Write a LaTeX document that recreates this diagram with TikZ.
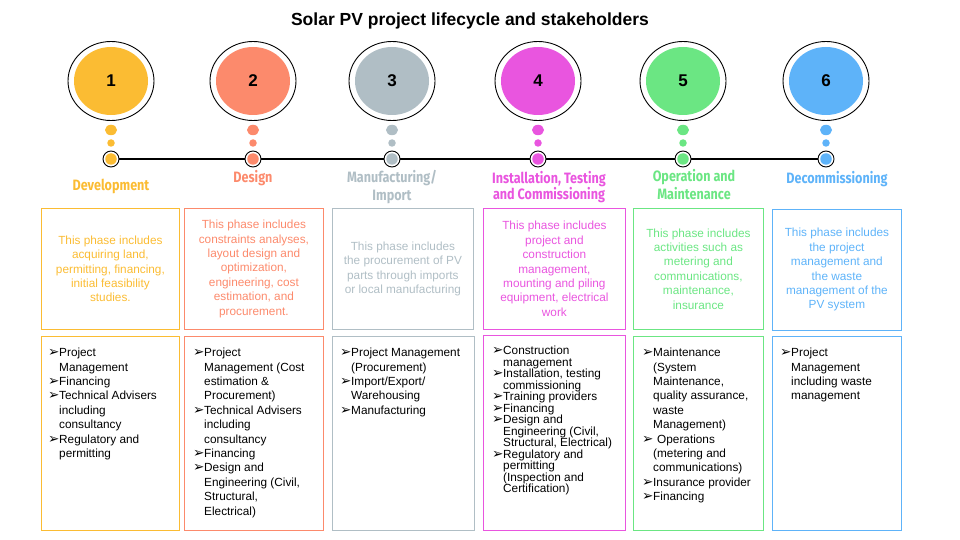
\documentclass[tikz,border=0pt]{standalone}
\usepackage{fontspec}
\setmainfont{Liberation Sans}
\newfontfamily\phasefont[FakeStretch=0.84]{Fira Sans}
\newfontfamily\symfont{DejaVu Sans}
\usetikzlibrary{
  shapes.geometric,
  positioning,
  backgrounds
}
\definecolor{pvDev}{HTML}{FBBC33}
\definecolor{pvDes}{HTML}{FC8A6C}
\definecolor{pvMan}{HTML}{B0BEC5}
\definecolor{pvIns}{HTML}{E955DF}
\definecolor{pvOM}{HTML}{6BE683}
\definecolor{pvDec}{HTML}{5EB3F9}
\newcommand{\pvitem}{\makebox[11pt][l]{\symfont\fontsize{13.5}{10}\selectfont ➢}}
\newcommand{\pvcont}{\hspace*{11pt}}
\tikzset{
  pvtitle/.style={font=\bfseries\fontsize{17.5}{20}\selectfont, inner sep=0pt},
  bubbleout/.style={draw, ellipse, line width=0.9pt, fill=white,
    minimum width=86pt, minimum height=79pt, inner sep=0pt},
  bubblein/.style={ellipse, minimum width=74pt, minimum height=68pt, inner sep=0pt,
    font=\bfseries\fontsize{17}{17}\selectfont},
  bigdot/.style={ellipse, minimum width=12pt, minimum height=10.5pt, inner sep=0pt},
  smalldot/.style={circle, minimum size=7.5pt, inner sep=0pt},
  stopring/.style={draw, circle, line width=0.9pt, fill=white, minimum size=16pt, inner sep=0pt},
  stopdot/.style={circle, minimum size=11.5pt, inner sep=0pt},
  timeline/.style={line width=1.6pt, black},
  phaselabel/.style={font=\phasefont\bfseries\fontsize{15}{18}\selectfont, align=center, inner sep=0pt},
  descbox/.style={draw, line width=0.8pt, anchor=north west, align=center, inner sep=0pt,
    font=\fontsize{11.8}{14.4}\selectfont},
  listbox/.style={draw, line width=0.8pt, anchor=north west, inner sep=0pt},
  listtext/.style={inner sep=0pt, align=left, font=\fontsize{11.8}{14.4}\selectfont}
}
\begin{document}
\begin{tikzpicture}[x=1pt, y=-1pt]
  \useasboundingbox (0,0) rectangle (960,540);
  \node[pvtitle] (title) at (470,21) {Solar PV project lifecycle and stakeholders};

  % bubbles, dots and timeline stops
  \foreach \x/\n/\c in {111/1/pvDev, 253/2/pvDes, 392/3/pvMan, 538/4/pvIns, 683/5/pvOM, 826/6/pvDec}{
    \node[bubbleout] (b\n) at (\x,81) {};
    \node[bubblein, fill=\c] (bi\n) at (b\n) {\n};
    \node[bigdot, fill=\c] (d\n) at (\x,130) {};
    \node[smalldot, fill=\c] (s\n) at (\x,143) {};
    \node[stopring] (t\n) at (\x,159) {};
    \node[stopdot, fill=\c] (ti\n) at (t\n) {};
  }
  \begin{scope}[on background layer]
    \draw[timeline] (t1) -- (t6);
  \end{scope}

  % phase names
  \node[phaselabel, text=pvDev] (n1) at (111,186) {Development};
  \node[phaselabel, text=pvDes] (n2) at (253,178) {Design};
  \node[phaselabel, text=pvMan] (n3) at (392,187) {Manufacturing/\\Import};
  \node[phaselabel, text=pvIns, font=\phasefont\bfseries\fontsize{15}{15.5}\selectfont] (n4) at (549,187) {Installation, Testing\\and Commissioning};
  \node[phaselabel, text=pvOM] (n5) at (694,185) {Operation and\\Maintenance};
  \node[phaselabel, text=pvDec] (n6) at (837,179) {Decommissioning};

  % phase descriptions
  \node[descbox, draw=pvDev, text=pvDev, minimum width=138pt, minimum height=121pt] (p1) at (41,208)
    {This phase includes\\acquiring land,\\permitting, financing,\\initial feasibility\\studies.};
  \node[descbox, draw=pvDes, text=pvDes, minimum width=139pt, minimum height=121pt] (p2) at (184,208)
    {This phase includes\\constraints analyses,\\layout design and\\optimization,\\engineering, cost\\estimation, and\\procurement.};
  \node[descbox, draw=pvMan, text=pvMan, minimum width=141pt, minimum height=121pt] (p3) at (332,208)
    {This phase includes\\the procurement of PV\\parts through imports\\or local manufacturing};
  \node[descbox, draw=pvIns, text=pvIns, minimum width=142pt, minimum height=121pt] (p4) at (483,208)
    {This phase includes\\project and\\construction\\management,\\mounting and piling\\equipment, electrical\\work};
  \node[descbox, draw=pvOM, text=pvOM, minimum width=130pt, minimum height=121pt] (p5) at (633,208)
    {This phase includes\\activities such as\\metering and\\communications,\\maintenance,\\insurance};
  \node[descbox, draw=pvDec, text=pvDec, minimum width=129pt, minimum height=121pt] (p6) at (772,209)
    {This phase includes\\the project\\management and\\the waste\\management of the\\PV system};

  % stakeholders
  \node[listbox, draw=pvDev, minimum width=138pt, minimum height=194pt] (l1) at (41,336) {};
  \node[listbox, draw=pvDes, minimum width=139pt, minimum height=194pt] (l2) at (184,336) {};
  \node[listbox, draw=pvMan, minimum width=142pt, minimum height=194pt] (l3) at (332,336) {};
  \node[listbox, draw=pvIns, minimum width=142pt, minimum height=195pt] (l4) at (483,335) {};
  \node[listbox, draw=pvOM, minimum width=130pt, minimum height=194pt] (l5) at (633,336) {};
  \node[listbox, draw=pvDec, minimum width=129pt, minimum height=194pt] (l6) at (772,336) {};

  \node[listtext, below right=12pt and 7pt of l1.north west] (k1)
    {\pvitem Project\\\pvcont Management\\\pvitem Financing\\\pvitem Technical Advisers\\\pvcont including\\\pvcont consultancy\\\pvitem Regulatory and\\\pvcont permitting};
  \node[listtext, below right=12pt and 9pt of l2.north west] (k2)
    {\pvitem Project\\\pvcont Management (Cost\\\pvcont estimation \&\\\pvcont Procurement)\\\pvitem Technical Advisers\\\pvcont including\\\pvcont consultancy\\\pvitem Financing\\\pvitem Design and\\\pvcont Engineering (Civil,\\\pvcont Structural,\\\pvcont Electrical)};
  \node[listtext, below right=12pt and 8pt of l3.north west] (k3)
    {\pvitem Project Management\\\pvcont (Procurement)\\\pvitem Import/Export/\\\pvcont Warehousing\\\pvitem Manufacturing};
  \node[listtext, below right=11pt and 9pt of l4.north west, font=\fontsize{11.8}{11.5}\selectfont] (k4)
    {\pvitem Construction\\\pvcont management\\\pvitem Installation, testing\\\pvcont commissioning\\\pvitem Training providers\\\pvitem Financing\\\pvitem Design and\\\pvcont Engineering (Civil,\\\pvcont Structural, Electrical)\\\pvitem Regulatory and\\\pvcont permitting\\\pvcont (Inspection and\\\pvcont Certification)};
  \node[listtext, below right=12pt and 9pt of l5.north west] (k5)
    {\pvitem Maintenance\\\pvcont (System\\\pvcont Maintenance,\\\pvcont quality assurance,\\\pvcont waste\\\pvcont Management)\\\pvitem\hspace{4pt}Operations\\\pvcont (metering and\\\pvcont communications)\\\pvitem Insurance provider\\\pvitem Financing};
  \node[listtext, below right=12pt and 8pt of l6.north west] (k6)
    {\pvitem Project\\\pvcont Management\\\pvcont including waste\\\pvcont management};
\end{tikzpicture}
\end{document}
